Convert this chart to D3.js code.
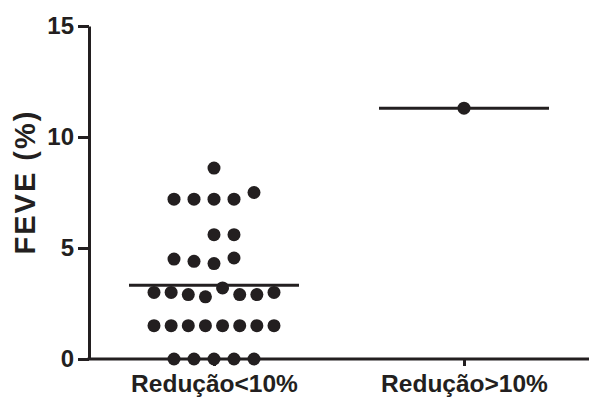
<!DOCTYPE html>
<html>
<head>
<meta charset="utf-8">
<script src="https://cdn.jsdelivr.net/npm/d3@7"></script>
<style>
  html, body { margin: 0; padding: 0; background: #fff; }
  svg { display: block; }
  text { font-family: "Liberation Sans", Arial, Helvetica, sans-serif; font-weight: bold; fill: #231f20; }
</style>
</head>
<body>
<svg id="chart" width="590" height="397"></svg>
<script>
// Groups and individual FEVE (%) values
const categories = ["Redução<10%", "Redução>10%"];
const groupLow = [
  8.6,
  7.2, 7.2, 7.2, 7.2, 7.5,
  5.6, 5.6,
  4.5, 4.4, 4.3, 4.55,
  3.0, 3.0, 2.9, 2.8, 3.2, 2.9, 2.9, 3.0,
  1.5, 1.5, 1.5, 1.5, 1.5, 1.5, 1.5, 1.5,
  0, 0, 0, 0, 0
];
const groupHigh = [11.3];
const yTicks = [0, 5, 10, 15];
const yLabel = "FEVE (%)";

const ink = "#231f20";
const svg = d3.select("#chart");
const margin = { left: 89, right: 1, top: 26, bottom: 38 };
const W = 590, H = 397;

const x = d3.scalePoint()
  .domain(categories)
  .range([margin.left, W - margin.right])
  .padding(0.5);
const y = d3.scaleLinear()
  .domain([0, 15])
  .range([H - margin.bottom, margin.top]);

const step = x.step();
const dotR = 6.5;
const dotGap = 20;       // centre spacing of dots sharing a row
const maxRowWidth = 120; // rows wider than this are compressed
const meanHalf = step * 0.34;

// Lay out points of one group: values close together share a row and
// are spread horizontally around the category centre.
function scatterLayout(values, cx) {
  const items = values.map((v, i) => ({ v, i }));
  const sorted = items.slice().sort((a, b) => a.v - b.v || a.i - b.i);
  const rows = [];
  sorted.forEach(p => {
    const last = rows[rows.length - 1];
    if (last && p.v - last[last.length - 1].v < 0.6) last.push(p);
    else rows.push([p]);
  });
  const out = [];
  rows.forEach(row => {
    row.sort((a, b) => a.i - b.i);
    const n = row.length;
    let offs;
    if ((n - 1) * dotGap > maxRowWidth) {
      const s = maxRowWidth / (n - 1);
      offs = row.map((_, k) => (k - (n - 1) / 2) * s);
    } else if (n === 2) {
      offs = [0, dotGap];
    } else {
      offs = row.map((_, k) => (k - Math.floor(n / 2)) * dotGap);
    }
    row.forEach((p, k) => out.push({ v: p.v, x: cx + offs[k] }));
  });
  return out;
}

const groups = [
  { name: categories[0], values: groupLow },
  { name: categories[1], values: groupHigh }
];

// Axes
const yAxis = d3.axisLeft(y)
  .tickValues(yTicks)
  .tickSize(11)
  .tickSizeOuter(0)
  .tickPadding(4);
const gy = svg.append("g")
  .attr("transform", `translate(${margin.left},0)`)
  .call(yAxis);
gy.select(".domain").attr("stroke", ink).attr("stroke-width", 3);
gy.selectAll(".tick line").attr("stroke", ink).attr("stroke-width", 3);
gy.selectAll(".tick text")
  .attr("fill", ink)
  .style("font-size", "24px")
  .style("font-family", "'Liberation Sans', Arial, sans-serif")
  .style("font-weight", "bold");

const xAxis = d3.axisBottom(x)
  .tickSize(7)
  .tickSizeOuter(0)
  .tickPadding(9);
const gx = svg.append("g")
  .attr("transform", `translate(0,${y(0)})`)
  .call(xAxis);
gx.select(".domain").attr("stroke", ink).attr("stroke-width", 3)
  .attr("d", `M${margin.left - 1.5},0H${W - margin.right}`);
gx.selectAll(".tick line").attr("stroke", ink).attr("stroke-width", 3);
gx.selectAll(".tick text")
  .attr("fill", ink)
  .style("font-size", "24.5px")
  .style("font-family", "'Liberation Sans', Arial, sans-serif")
  .style("font-weight", "bold");

// Y axis title
svg.append("text")
  .attr("transform", `translate(35,182) rotate(-90)`)
  .attr("text-anchor", "middle")
  .style("font-size", "29px")
  .style("letter-spacing", "2px")
  .text(yLabel);

// Dots and mean lines
groups.forEach(g => {
  const cx = x(g.name);
  const pts = scatterLayout(g.values, cx);
  svg.append("g").selectAll("circle")
    .data(pts)
    .join("circle")
    .attr("cx", d => d.x)
    .attr("cy", d => y(d.v))
    .attr("r", dotR)
    .attr("fill", ink);

  const m = d3.mean(g.values);
  svg.append("line")
    .attr("x1", cx - meanHalf)
    .attr("x2", cx + meanHalf)
    .attr("y1", y(m))
    .attr("y2", y(m))
    .attr("stroke", ink)
    .attr("stroke-width", 3);
});
</script>
</body>
</html>
